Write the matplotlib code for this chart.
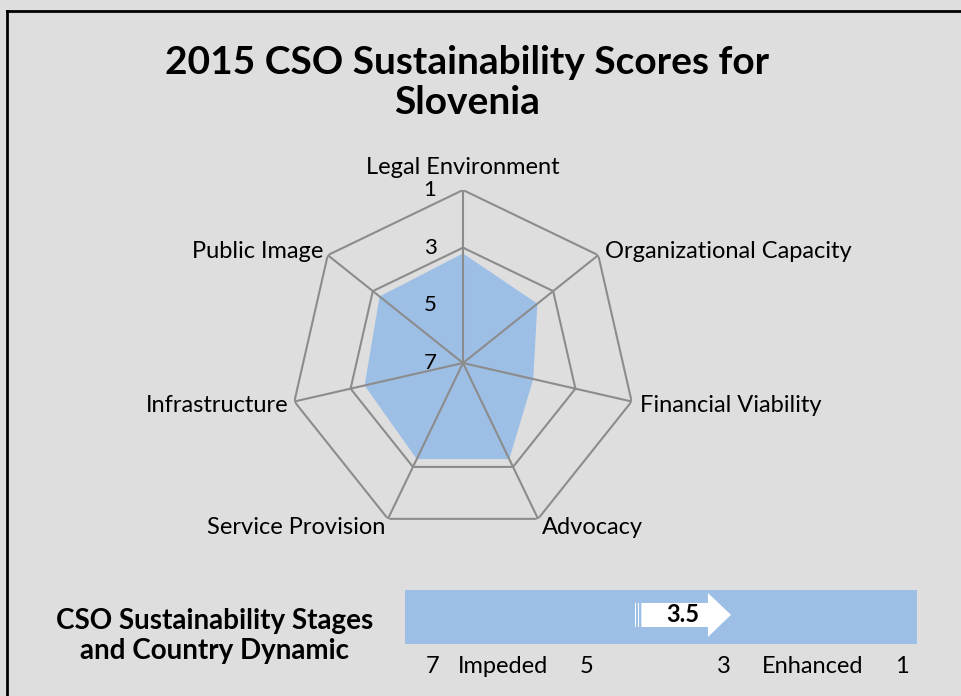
import matplotlib.pyplot as plt
import numpy as np
from matplotlib.patches import Rectangle, Polygon
from matplotlib.transforms import offset_copy

plt.rcParams['font.family'] = ['Lato', 'DejaVu Sans']

# scores (1 = best, 7 = worst)
dimensions = ['Legal Environment', 'Organizational Capacity', 'Financial Viability',
              'Advocacy', 'Service Provision', 'Infrastructure', 'Public Image']
scores = [3.2, 3.7, 4.5, 3.3, 3.3, 3.5, 3.3]
overall = 3.5
ring_values = [1, 3]
tick_values = [1, 3, 5, 7]

bg = '#dedede'
blue = '#9dbfe6'
grid_col = '#8c8c8c'

fig = plt.figure(figsize=(9.61, 6.96), dpi=100, facecolor=bg)

# frame lines (top and left)
fig.add_artist(plt.Line2D([7/961, 1], [1-11/696, 1-11/696], color='black', lw=2))
fig.add_artist(plt.Line2D([7/961, 7/961], [0, 1-11/696], color='black', lw=2))

fig.text(0.486, 1-62/696, '2015 CSO Sustainability Scores for', ha='center', va='center',
         fontsize=28, fontweight='bold')
fig.text(0.486, 1-102/696, 'Slovenia', ha='center', va='center',
         fontsize=28, fontweight='bold')

############ radar
n = len(dimensions)
angles = np.arange(n) * 2*np.pi/n
ax = fig.add_axes([463/961 - 0.18, 1-363/696 - 173/696, 0.36, 346/696], projection='polar')
ax.set_theta_zero_location('N')
ax.set_theta_direction(-1)
ax.set_ylim(0, 6)
ax.axis('off')

closed = np.append(angles, angles[0])
r_scores = [7 - s for s in scores]
ax.fill(closed, r_scores + [r_scores[0]], color=blue, lw=0, zorder=1)
for v in ring_values:
    ax.plot(closed, [7 - v]*(n+1), color=grid_col, lw=1.5, zorder=2)
for a in angles:
    ax.plot([a, a], [0, 6], color=grid_col, lw=1.5, zorder=2)

tick_tr = offset_copy(ax.transData, fig=fig, x=-33, y=0, units='dots')
for v in tick_values:
    ax.text(0, 7 - v, str(v), ha='center', va='center', fontsize=16, transform=tick_tr)

label_pos = [(463, 167, 'center'), (605, 252, 'left'), (640, 405, 'left'), (542, 527, 'left'),
             (385, 527, 'right'), (288, 405, 'right'), (323, 252, 'right')]
for name, (px, py, ha) in zip(dimensions, label_pos):
    fig.text(px/961, 1-py/696, name, ha=ha, va='center', fontsize=17)

############ stages bar
bx = fig.add_axes([405/961, 1-644/696, 512/961, 54/696])
bx.set_xlim(7, 1)
bx.set_ylim(0, 1)
bx.axis('off')
bx.add_patch(Rectangle((7, 0), -6, 1, color=blue, lw=0))
tail, head_start, tip = 4.23, 3.45, 3.18
arrow = Polygon([(tail, 0.315), (head_start, 0.315), (head_start, 0.13), (tip, 0.54),
                 (head_start, 0.944), (head_start, 0.76), (tail, 0.76)],
                closed=True, color='white', lw=0)
bx.add_patch(arrow)
for sx in [4.31, 4.27]:
    bx.add_patch(Rectangle((sx, 0.315), -0.012, 0.445, color='white', lw=0))
bx.text(3.75, 0.54, f'{overall}', ha='center', va='center', fontsize=17, fontweight='bold')

stage_labels = [(6.68, '7'), (5.85, 'Impeded'), (4.87, '5'), (3.26, '3'), (2.22, 'Enhanced'), (1.18, '1')]
for xv, t in stage_labels:
    bx.text(xv, -0.42, t, ha='center', va='center', fontsize=17)

fig.text(215/961, 1-621/696, 'CSO Sustainability Stages', ha='center', va='center',
         fontsize=20, fontweight='bold')
fig.text(215/961, 1-651/696, 'and Country Dynamic', ha='center', va='center',
         fontsize=20, fontweight='bold')

fig.savefig('out.png', dpi=100, facecolor=bg)
